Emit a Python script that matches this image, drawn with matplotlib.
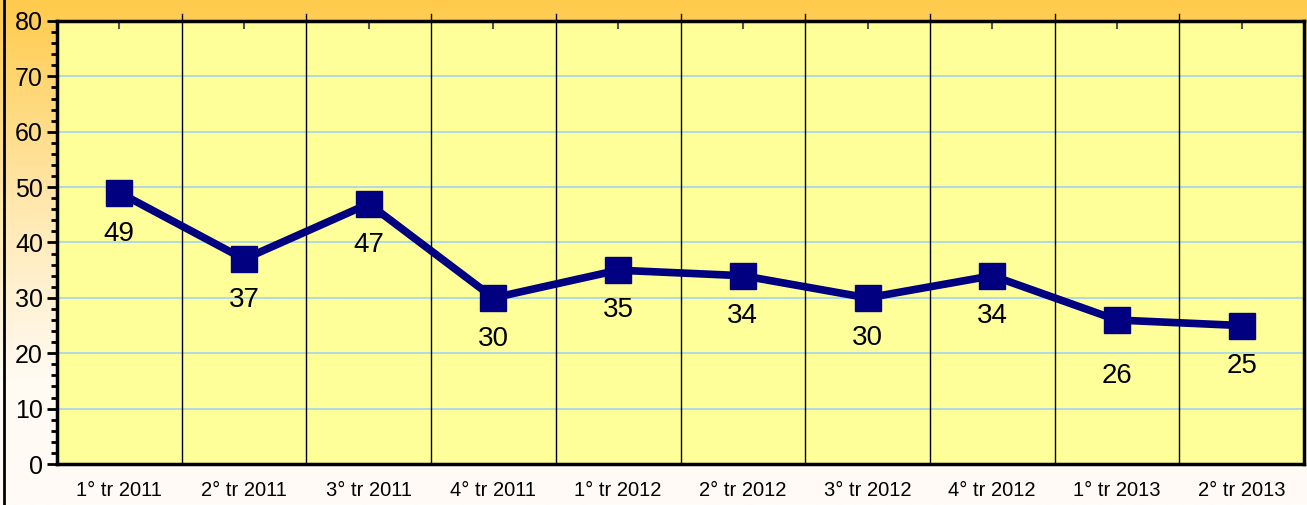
import matplotlib.pyplot as plt
import numpy as np
from matplotlib.colors import LinearSegmentedColormap
from matplotlib.ticker import MultipleLocator

# quarterly values
trimestri = ['1° tr 2011', '2° tr 2011', '3° tr 2011', '4° tr 2011',
             '1° tr 2012', '2° tr 2012', '3° tr 2012', '4° tr 2012',
             '1° tr 2013', '2° tr 2013']
valori = [49, 37, 47, 30, 35, 34, 30, 34, 26, 25]
label_offset = [-41, -41, -41, -41, -40, -40, -40, -40, -56, -40]

plt.rcParams['font.family'] = ['Liberation Sans', 'DejaVu Sans']

fig = plt.figure(figsize=(13.07, 5.05), dpi=100)

# background gradient, orange at top to cream at bottom
bg = fig.add_axes([0, 0, 1, 1], zorder=-5)
grad_cmap = LinearSegmentedColormap.from_list(
    'bg', [(0.0, '#fffbf6'), (0.25, '#fffaf2'), (0.55, '#ffeab8'), (1.0, '#ffcb4c')])
grad = np.linspace(0, 1, 256).reshape(-1, 1)
bg.imshow(grad, cmap=grad_cmap, aspect='auto', origin='lower', extent=[0, 1, 0, 1])
bg.set_xlim(0, 1)
bg.set_ylim(0, 1)
bg.axis('off')
bg.axvline(0.003, color='black', lw=2)

W, H = 1307, 505
ax = fig.add_axes([57 / W, (H - 464) / H, (1304 - 57) / W, (464 - 21) / H])
ax.set_facecolor('#ffff99')

x = np.arange(len(trimestri))
ax.set_xlim(-0.5, len(trimestri) - 0.5)
ax.set_ylim(0, 80)

# horizontal grid
for v in range(10, 80, 10):
    ax.axhline(v, color='#a6d2f0', lw=1.2, zorder=1)
# vertical separators between categories
for b in np.arange(0.5, len(trimestri) - 0.5, 1):
    ax.plot([b, b], [0, 81.3], color='black', lw=1, zorder=2, clip_on=False)
# small ticks at the top, at category centres
for c in x:
    ax.plot([c, c], [80, 78.8], color='#555555', lw=1.5, zorder=2)

ax.plot(x, valori, color='#000080', lw=5.5, marker='s', markersize=19,
        zorder=5, clip_on=False)

for xi, v, off in zip(x, valori, label_offset):
    ax.annotate(str(v), (xi, v), xytext=(0, off * 0.72), textcoords='offset points',
                ha='center', va='center', fontsize=20, color='black', zorder=6)

for s in ax.spines.values():
    s.set_linewidth(2.5)
    s.set_color('black')

ax.set_xticks(x)
ax.set_xticklabels(trimestri, fontsize=14.5)
ax.tick_params(axis='x', length=0, pad=12)
ax.yaxis.set_major_locator(MultipleLocator(10))
ax.yaxis.set_minor_locator(MultipleLocator(2))
ax.tick_params(axis='y', which='major', length=7, width=2, labelsize=18, pad=3)
ax.tick_params(axis='y', which='minor', length=4, width=2)

plt.savefig('out.png', dpi=100)
